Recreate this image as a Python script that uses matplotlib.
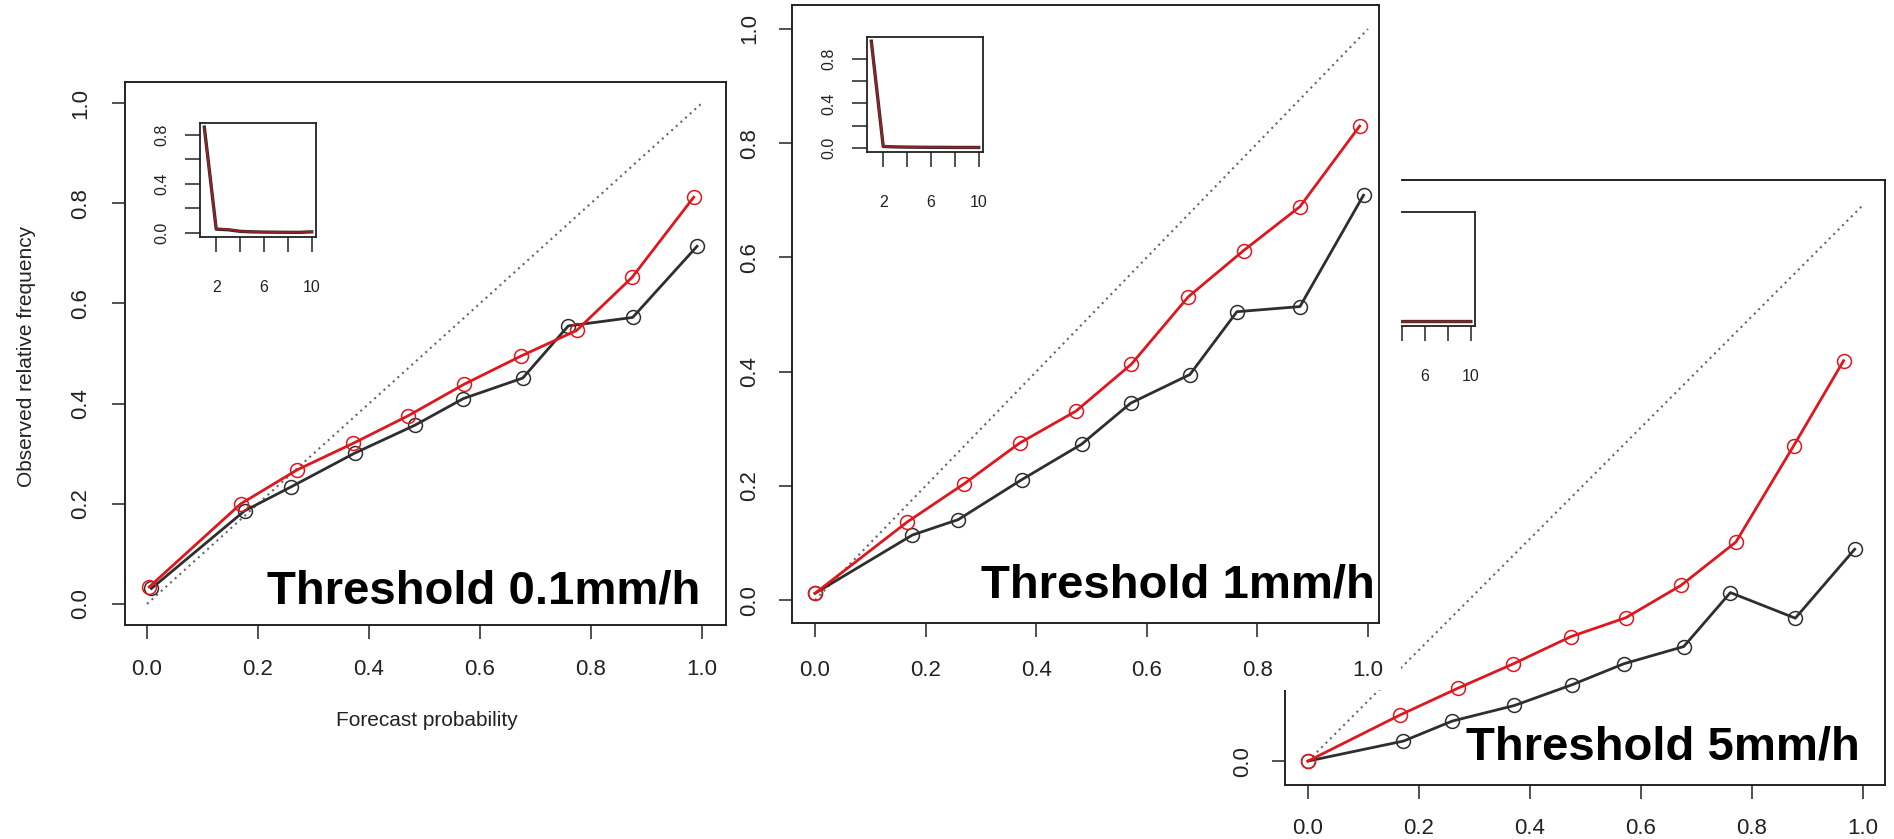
import matplotlib
matplotlib.use("Agg")
import matplotlib.pyplot as plt
from matplotlib.patches import Rectangle

plt.rcParams['font.family'] = ['Liberation Sans', 'DejaVu Sans']

W, H = 1894, 839

# reliability curves, three thresholds (black = raw, red = calibrated)
p1_x_black = [0.008, 0.176, 0.260, 0.374, 0.483, 0.570, 0.677, 0.759, 0.875, 0.991]
p1_y_black = [0.031, 0.186, 0.234, 0.301, 0.357, 0.410, 0.451, 0.555, 0.572, 0.714]
p1_x_red = [0.004, 0.169, 0.271, 0.372, 0.471, 0.572, 0.674, 0.774, 0.874, 0.985]
p1_y_red = [0.034, 0.200, 0.268, 0.321, 0.376, 0.439, 0.495, 0.546, 0.652, 0.812]

p2_x_black = [0.0, 0.176, 0.259, 0.374, 0.482, 0.571, 0.678, 0.763, 0.877, 0.992]
p2_y_black = [0.012, 0.114, 0.141, 0.211, 0.273, 0.345, 0.395, 0.505, 0.514, 0.709]
p2_x_red = [0.0, 0.167, 0.270, 0.370, 0.472, 0.572, 0.675, 0.775, 0.877, 0.985]
p2_y_red = [0.012, 0.137, 0.204, 0.275, 0.331, 0.413, 0.531, 0.612, 0.689, 0.830]

p3_x_black = [0.0, 0.172, 0.260, 0.372, 0.475, 0.569, 0.677, 0.761, 0.878, 0.985]
p3_y_black = [0.0, 0.036, 0.072, 0.100, 0.137, 0.175, 0.206, 0.303, 0.257, 0.381]
p3_x_red = [0.0, 0.166, 0.270, 0.370, 0.474, 0.573, 0.672, 0.771, 0.875, 0.965]
p3_y_red = [0.0, 0.083, 0.131, 0.175, 0.224, 0.258, 0.316, 0.394, 0.567, 0.720]

# inset histograms (bins 1..10)
bins = list(range(1, 11))
in1_black = [0.86, 0.030, 0.025, 0.012, 0.008, 0.006, 0.005, 0.004, 0.004, 0.008]
in1_red = [0.85, 0.035, 0.028, 0.012, 0.008, 0.006, 0.005, 0.004, 0.004, 0.008]
in2_black = [0.96, 0.012, 0.008, 0.006, 0.005, 0.004, 0.004, 0.003, 0.003, 0.003]
in2_red = [0.95, 0.014, 0.009, 0.006, 0.005, 0.004, 0.004, 0.003, 0.003, 0.003]
in3_black = [0.99, 0.004, 0.003, 0.002, 0.002, 0.002, 0.002, 0.002, 0.002, 0.002]
in3_red = [0.99, 0.005, 0.003, 0.002, 0.002, 0.002, 0.002, 0.002, 0.002, 0.002]

prob_ticks = [0.0, 0.2, 0.4, 0.6, 0.8, 1.0]
prob_labels = ['0.0', '0.2', '0.4', '0.6', '0.8', '1.0']

BLACK = '#2e2e2e'
RED = '#e0161e'
FRAME = '#222222'


def px_axes(left, top, right, bottom):
    return fig.add_axes([left / W, 1 - bottom / H, (right - left) / W, (bottom - top) / H])


def style_frame(ax, lw=1.4):
    for s in ax.spines.values():
        s.set_color(FRAME)
        s.set_linewidth(lw)


def main_panel(ax, xb, yb, xr, yr, xlim, ylim, xpad, ypad):
    ax.plot([0, 1], [0, 1], linestyle=(0, (1, 2)), color='#666666', lw=1.5)
    ax.plot(xb, yb, color=BLACK, lw=2, marker='o', ms=10, mfc='none', mec=BLACK, mew=1.1)
    ax.plot(xr, yr, color=RED, lw=2, marker='o', ms=10, mfc='none', mec=RED, mew=1.1)
    ax.set_xlim(*xlim)
    ax.set_ylim(*ylim)
    ax.set_xticks(prob_ticks)
    ax.set_xticklabels(prob_labels)
    ax.set_yticks(prob_ticks)
    ax.set_yticklabels(prob_labels, rotation=90, va='center')
    ax.tick_params(axis='x', length=10, width=1.1, color=FRAME, pad=xpad, labelsize=16, labelcolor='#222222')
    ax.tick_params(axis='y', length=9.5, width=1.1, color=FRAME, pad=ypad, labelsize=16, labelcolor='#222222')
    style_frame(ax)


def inset(ax, yb, yr, ylim):
    ax.plot(bins, yb, color=BLACK, lw=2.4)
    ax.plot(bins, yr, color=RED, lw=1.4, alpha=0.6)
    ax.set_xlim(0.64, 10.36)
    ax.set_ylim(*ylim)
    ax.set_xticks([2, 4, 6, 8, 10])
    ax.set_xticklabels(['2', '', '6', '', '10'])
    ax.set_yticks([0.0, 0.2, 0.4, 0.6, 0.8])
    ax.set_yticklabels(['0.0', '', '0.4', '', '0.8'], rotation=90, va='center')
    ax.tick_params(axis='x', length=11, width=1.1, color=FRAME, pad=20, labelsize=11.5, labelcolor='#222222')
    ax.tick_params(axis='y', length=11, width=1.1, color=FRAME, pad=11, labelsize=11.5, labelcolor='#222222')
    style_frame(ax, 1.3)


fig = plt.figure(figsize=(W / 100, H / 100), dpi=100)

# panel 3 (back, partly hidden behind panel 2)
ax3 = px_axes(1285, 180, 1885, 785)
ax3.set_zorder(1)
main_panel(ax3, p3_x_black, p3_y_black, p3_x_red, p3_y_red,
           (-0.0414, 1.0396), (-0.043, 1.045), 14, 13.5)
ax3.text(1860 / W, 1 - 760 / H, 'Threshold 5mm/h', transform=fig.transFigure,
         ha='right', va='baseline', fontsize=34, fontweight='bold', color='black')
ax3i = px_axes(1363, 212, 1475, 326)
ax3i.set_zorder(1.5)
inset(ax3i, in3_black, in3_red, (-0.04, 1.03))

# white background of panel 2 image
fig.patches.append(Rectangle((728 / W, 1 - 690 / H), (1401 - 728) / W, 690 / H,
                             transform=fig.transFigure, facecolor='white',
                             edgecolor='none', zorder=2))

# panel 1
ax1 = px_axes(125, 82, 726, 625)
ax1.set_zorder(0.5)
main_panel(ax1, p1_x_black, p1_y_black, p1_x_red, p1_y_red,
           (-0.0396, 1.0432), (-0.042, 1.042), 14.5, 15)
ax1.text(27 / W, 1 - 356 / H, 'Observed relative frequency', transform=fig.transFigure,
         rotation=90, ha='center', va='center', fontsize=15, color='#222222')
ax1.text(427 / W, 1 - 720 / H, 'Forecast probability', transform=fig.transFigure,
         ha='center', va='center', fontsize=15, color='#222222')
ax1.text(700 / W, 1 - 603 / H, 'Threshold 0.1mm/h', transform=fig.transFigure,
         ha='right', va='baseline', fontsize=34, fontweight='bold', color='black')
ax1i = px_axes(200, 123, 316, 237)
ax1i.set_zorder(0.6)
inset(ax1i, in1_black, in1_red, (-0.034, 0.894))

# panel 2 (front)
ax2 = px_axes(791.5, 5, 1379, 623)
ax2.set_zorder(3)
main_panel(ax2, p2_x_black, p2_y_black, p2_x_red, p2_y_red,
           (-0.0425, 1.02), (-0.040, 1.042), 17, 13)
ax2.text(1375 / W, 1 - 598 / H, 'Threshold 1mm/h', transform=fig.transFigure,
         ha='right', va='baseline', fontsize=34, fontweight='bold', color='black')
ax2i = px_axes(867, 37, 983, 152)
ax2i.set_zorder(4)
inset(ax2i, in2_black, in2_red, (-0.038, 0.998))

fig.savefig('out.png', dpi=100)
